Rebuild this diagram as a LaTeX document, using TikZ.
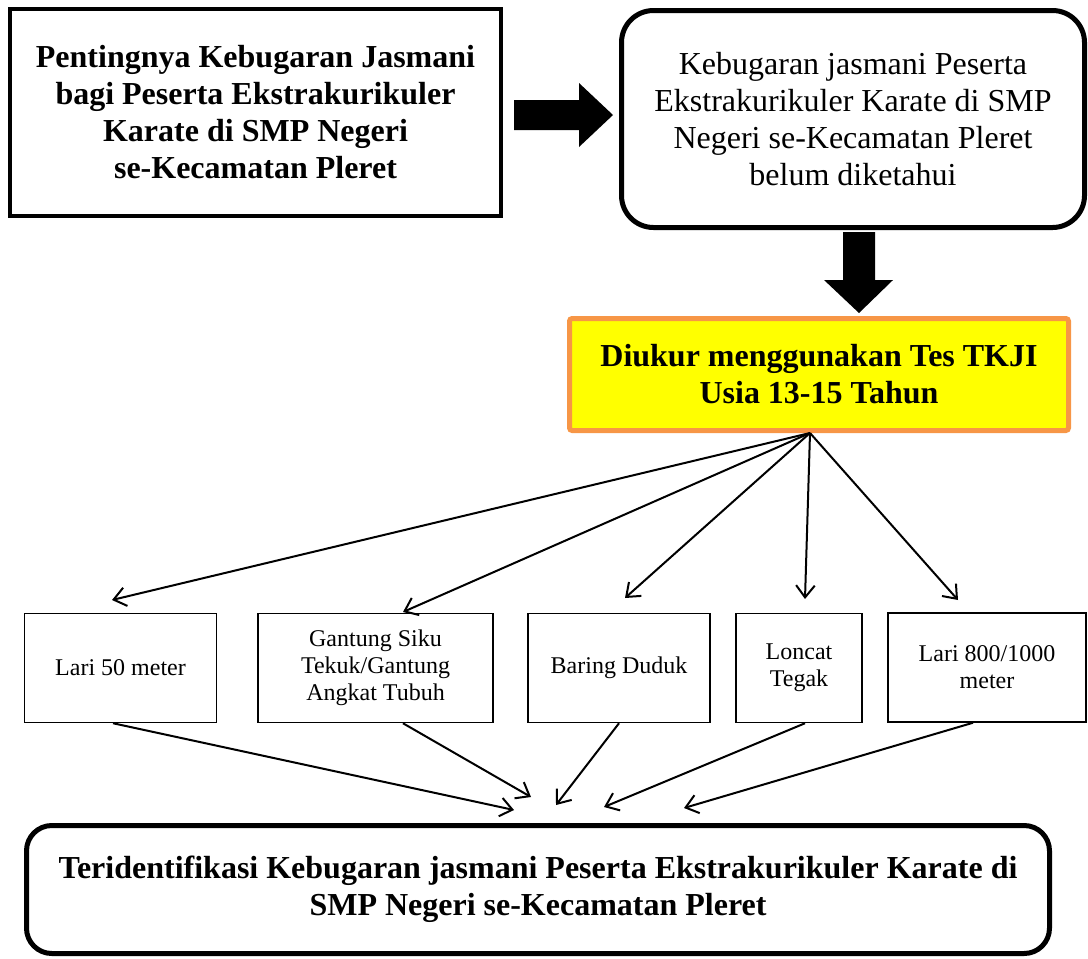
\documentclass[tikz,border=0pt]{standalone}
\usepackage{fontspec}
\setmainfont{Liberation Serif}
\usetikzlibrary{arrows.meta}

\definecolor{tkjiyellow}{rgb}{1, 1, 0}
\definecolor{tkjiorange}{RGB}{247, 150, 70}

\tikzset{
	bigbold/.style={font=\fontsize{24}{27.75}\selectfont\bfseries, align=center, inner sep=0pt},
	bigplain/.style={font=\fontsize{24}{27.75}\selectfont, align=center, inner sep=0pt},
	testbox/.style={draw, line width=1.1pt, font=\fontsize{18}{20.25}\selectfont, align=center, inner sep=0pt, minimum height=81.75pt},
	thinarrow/.style={line width=1.5pt, -{Straight Barb[length=9pt,width=14pt]}},
}

\begin{document}
\begin{tikzpicture}[x=0.75pt,y=0.75pt,yscale=-1,xscale=1]
		\path[use as bounding box] (0,0) rectangle (1088,958);

		% Box on the top left
		\node[draw, line width=3pt, bigbold, minimum width=368.25pt, minimum height=155.25pt] (penting) at (255.5,112.5) {Pentingnya Kebugaran Jasmani\\bagi Peserta Ekstrakurikuler\\Karate di SMP Negeri\\se-Kecamatan Pleret};

		% Rounded box on the top right
		\node[draw, line width=3.75pt, rounded corners=24pt, bigplain, minimum width=347.25pt, minimum height=162.75pt] (belum) at (853,119) {Kebugaran jasmani Peserta\\Ekstrakurikuler Karate di SMP\\Negeri se-Kecamatan Pleret\\belum diketahui};

		% The thick arrow pointing right
		\fill[black] (514,100) -- (579,100) -- (579,83) -- (613,115) -- (579,147) -- (579,130) -- (514,130) -- cycle;

		% The thick arrow pointing down
		\fill[black] (843,232) -- (875,232) -- (875,280) -- (893,280) -- (859,313) -- (824,280) -- (843,280) -- cycle;

		% Yellow box of the test
		\node[draw=tkjiorange, fill=tkjiyellow, line width=3.75pt, rounded corners=2pt, bigbold, minimum width=374.25pt, minimum height=84pt] (tkji) at (819,374.5) {Diukur menggunakan Tes TKJI\\Usia 13-15 Tahun};

		% The five test items
		\node[testbox, minimum width=144pt] (lari) at (120.5,668) {Lari 50 meter};
		\node[testbox, minimum width=176.25pt] (gantung) at (375.5,668) {Gantung Siku\\Tekuk/Gantung\\Angkat Tubuh};
		\node[testbox, minimum width=136.5pt] (baring) at (619,668) {Baring Duduk};
		\node[testbox, minimum width=94.5pt] (loncat) at (799,668) {Loncat\\Tegak};
		\node[testbox, minimum width=148.5pt] (lariJauh) at (987,667.5) {Lari 800/1000\\meter};

		% Rounded box at the bottom
		\node[draw, line width=3.75pt, rounded corners=19pt, bigbold, minimum width=767.25pt, minimum height=96pt] (hasil) at (538,889.5) {Teridentifikasi Kebugaran jasmani Peserta Ekstrakurikuler Karate di\\SMP Negeri se-Kecamatan Pleret};

		% Free ends of the thin arrows
		\coordinate (t1) at (112,600);
		\coordinate (t2) at (403,612);
		\coordinate (t3) at (625,598);
		\coordinate (t4) at (805,599);
		\coordinate (t5) at (958,600);
		\coordinate (b1) at (514,810);
		\coordinate (b2) at (531,797);
		\coordinate (b3) at (556,805);
		\coordinate (b4) at (604,807);
		\coordinate (b5) at (684,808);

		% Thin arrows from the test to the items
		\draw[thinarrow] ([xshift=-6.75pt]tkji.south) -- (t1);
		\draw[thinarrow] ([xshift=-6.75pt]tkji.south) -- (t2);
		\draw[thinarrow] ([xshift=-6.75pt]tkji.south) -- (t3);
		\draw[thinarrow] ([xshift=-6.75pt]tkji.south) -- (t4);
		\draw[thinarrow] ([xshift=-6.75pt]tkji.south) -- (t5);

		% Thin arrows from the items to the bottom box
		\draw[thinarrow] ([xshift=-5.6pt]lari.south) -- (b1);
		\draw[thinarrow] ([xshift=20.6pt]gantung.south) -- (b2);
		\draw[thinarrow] (baring.south) -- (b3);
		\draw[thinarrow] ([xshift=4.5pt]loncat.south) -- (b4);
		\draw[thinarrow] ([xshift=-10.5pt]lariJauh.south) -- (b5);
\end{tikzpicture}
\end{document}
